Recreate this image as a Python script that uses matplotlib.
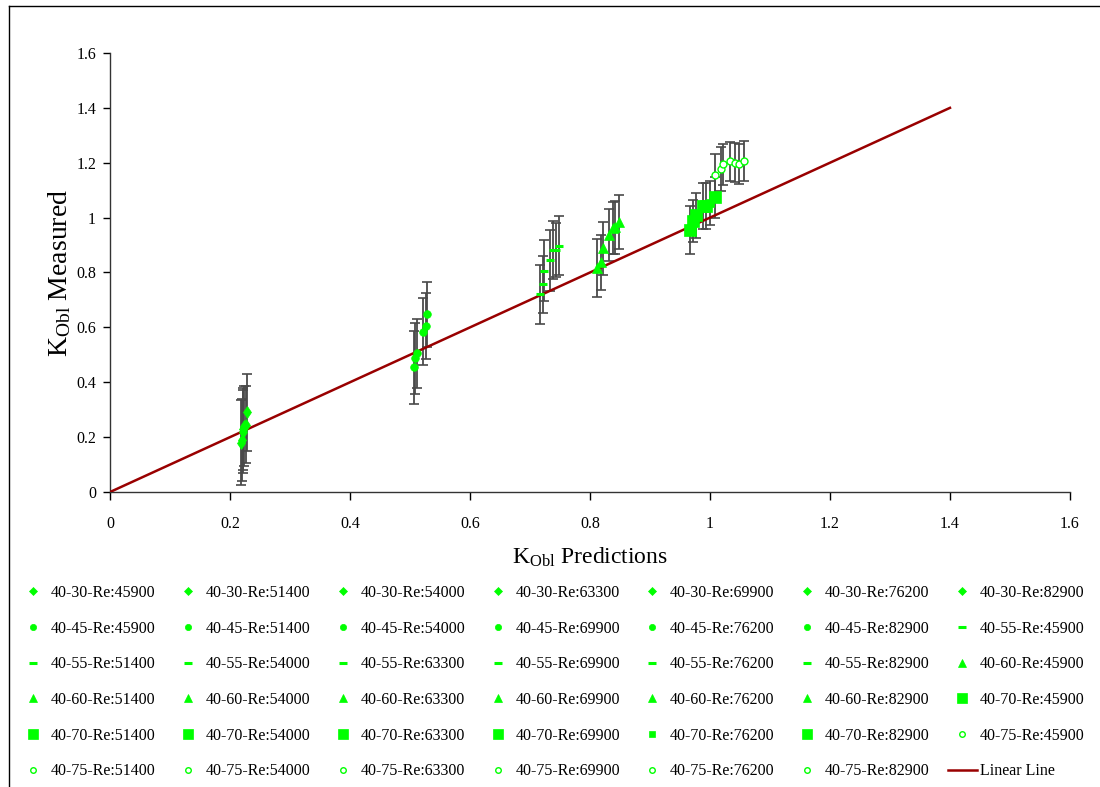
import matplotlib
matplotlib.use("Agg")
import matplotlib.pyplot as plt
from matplotlib.lines import Line2D

plt.rcParams['font.family'] = ['Liberation Serif', 'DejaVu Serif']
plt.rcParams['mathtext.fontset'] = 'custom'
plt.rcParams['mathtext.rm'] = 'Liberation Serif'
plt.rcParams['mathtext.it'] = 'Liberation Serif:italic'

# ---------------- data ----------------
re_values = ['45900', '51400', '54000', '63300', '69900', '76200', '82900']
re_values_45 = ['45900', '51400', '54000', '69900', '76200', '82900']

k30_pred = [0.218, 0.220, 0.221, 0.222, 0.224, 0.226, 0.229]
k30_meas = [0.18, 0.19, 0.22, 0.23, 0.24, 0.245, 0.29]
k30_err = [0.155, 0.15, 0.15, 0.15, 0.145, 0.14, 0.14]

k45_pred = [0.506, 0.509, 0.512, 0.522, 0.526, 0.529]
k45_meas = [0.454, 0.487, 0.505, 0.584, 0.606, 0.647]
k45_err = [0.133, 0.13, 0.126, 0.122, 0.121, 0.12]

k55_pred = [0.716, 0.721, 0.724, 0.734, 0.738, 0.743, 0.749]
k55_meas = [0.720, 0.757, 0.807, 0.844, 0.882, 0.882, 0.898]
k55_err = [0.107, 0.104, 0.112, 0.110, 0.105, 0.100, 0.107]

k60_pred = [0.812, 0.818, 0.821, 0.832, 0.838, 0.842, 0.848]
k60_meas = [0.815, 0.837, 0.888, 0.937, 0.963, 0.965, 0.984]
k60_err = [0.106, 0.101, 0.096, 0.094, 0.095, 0.097, 0.099]

k70_pred = [0.966, 0.972, 0.977, 0.989, 0.993, 1.000, 1.009]
k70_meas = [0.955, 0.988, 1.009, 1.042, 1.043, 1.052, 1.074]
k70_err = [0.087, 0.078, 0.082, 0.083, 0.083, 0.080, 0.074]

k75_pred = [1.009, 1.019, 1.022, 1.034, 1.042, 1.049, 1.056]
k75_meas = [1.155, 1.176, 1.194, 1.206, 1.200, 1.195, 1.206]
k75_err = [0.076, 0.080, 0.075, 0.071, 0.072, 0.072, 0.073]

linear_x = [0.0, 1.4]
linear_y = [0.0, 1.4]

x_ticks = [0, 0.2, 0.4, 0.6, 0.8, 1.0, 1.2, 1.4, 1.6]
x_tick_labels = ['0', '0.2', '0.4', '0.6', '0.8', '1', '1.2', '1.4', '1.6']
y_ticks = [0, 0.2, 0.4, 0.6, 0.8, 1.0, 1.2, 1.4, 1.6]
y_tick_labels = ['0', '0.2', '0.4', '0.6', '0.8', '1', '1.2', '1.4', '1.6']

# ---------------- style ----------------
GREEN = '#00FF00'
BAR = '#4a4a4a'
LINE = '#990000'

groups = [
    ('40-30', k30_pred, k30_meas, k30_err, re_values, dict(marker='d', ms=6, mfc=GREEN, mec=GREEN, mew=0.5)),
    ('40-45', k45_pred, k45_meas, k45_err, re_values_45, dict(marker='o', ms=5.5, mfc=GREEN, mec=GREEN, mew=0.5)),
    ('40-55', k55_pred, k55_meas, k55_err, re_values, dict(marker='_', ms=6, mfc=GREEN, mec=GREEN, mew=2.2)),
    ('40-60', k60_pred, k60_meas, k60_err, re_values, dict(marker='^', ms=6.5, mfc=GREEN, mec=GREEN, mew=0.5)),
    ('40-70', k70_pred, k70_meas, k70_err, re_values, dict(marker='s', ms=8.5, mfc=GREEN, mec=GREEN, mew=0.5)),
    ('40-75', k75_pred, k75_meas, k75_err, re_values, dict(marker='o', ms=5, mfc='white', mec=GREEN, mew=1.0)),
]

legend_styles = {
    '40-30': dict(marker='D', ms=3.8, mfc=GREEN, mec=GREEN, mew=0.5),
    '40-45': dict(marker='o', ms=4.5, mfc=GREEN, mec=GREEN, mew=0.5),
    '40-55': dict(marker='_', ms=5.5, mfc=GREEN, mec=GREEN, mew=2.2),
    '40-60': dict(marker='^', ms=5.5, mfc=GREEN, mec=GREEN, mew=0.5),
    '40-70': dict(marker='s', ms=6.5, mfc=GREEN, mec=GREEN, mew=0.5),
    '40-75': dict(marker='o', ms=4, mfc='white', mec=GREEN, mew=1.0),
}

fig = plt.figure(figsize=(11.0, 7.87), dpi=100)
ax = fig.add_axes([0.1, 0.3748, 0.8727, 0.5579])

# outer chart frame (left and top)
fig.add_artist(Line2D([9 / 1100, 9 / 1100], [0, 1 - 6 / 787], transform=fig.transFigure,
                      color='black', lw=1.0))
fig.add_artist(Line2D([9 / 1100, 1.0], [1 - 6 / 787, 1 - 6 / 787], transform=fig.transFigure,
                      color='black', lw=1.0))

legend_handles = []
legend_labels = []
for name, px, my, er, res, st in groups:
    ax.errorbar(px, my, yerr=er, fmt='none', ecolor=BAR, elinewidth=1.3,
                capsize=3.6, capthick=1.2, zorder=2)
    for i, re in enumerate(res):
        s = dict(st)
        lst = dict(legend_styles[name])
        if name == '40-70' and re == '76200':
            s['ms'] = 6
            lst['ms'] = 4
        ax.plot([px[i]], [my[i]], linestyle='none', zorder=4, **s)
        legend_handles.append(Line2D([], [], linestyle='none', **lst))
        legend_labels.append(f'{name}-Re:{re}')

ax.plot(linear_x, linear_y, color=LINE, lw=1.8, zorder=3)
legend_handles.append(Line2D([], [], color=LINE, lw=1.8))
legend_labels.append('Linear Line')

ax.set_xlim(0, 1.6)
ax.set_ylim(0, 1.6)
ax.set_xticks(x_ticks)
ax.set_xticklabels(x_tick_labels)
ax.set_yticks(y_ticks)
ax.set_yticklabels(y_tick_labels)
ax.tick_params(axis='x', direction='out', length=6, width=1, pad=11, labelsize=11.5, colors='black')
ax.tick_params(axis='y', direction='out', length=5, width=1, pad=5, labelsize=11.5, colors='black')
for sp in ['top', 'right']:
    ax.spines[sp].set_visible(False)
for sp in ['left', 'bottom']:
    ax.spines[sp].set_color('#333333')
    ax.spines[sp].set_linewidth(1.0)

ax.set_xlabel(r'K$_{\mathrm{Obl}}$ Predictions', fontsize=17, labelpad=10)
ax.set_ylabel(r'K$_{\mathrm{Obl}}$ Measured', fontsize=20, labelpad=2)

# legend, row-major order like the reference
ncol = 7
nrow = 6
ordered_h = []
ordered_l = []
for c in range(ncol):
    for r in range(nrow):
        k = r * ncol + c
        ordered_h.append(legend_handles[k])
        ordered_l.append(legend_labels[k])

fig.legend(ordered_h, ordered_l, ncol=ncol, loc='upper left',
           bbox_to_anchor=(18.6 / 1100, 1 - 585 / 787), frameon=False,
           fontsize=11.5, handlelength=1.8, handletextpad=0.2, columnspacing=1.14,
           labelspacing=1.23, borderpad=0, borderaxespad=0)

fig.savefig('out.png', dpi=100)
